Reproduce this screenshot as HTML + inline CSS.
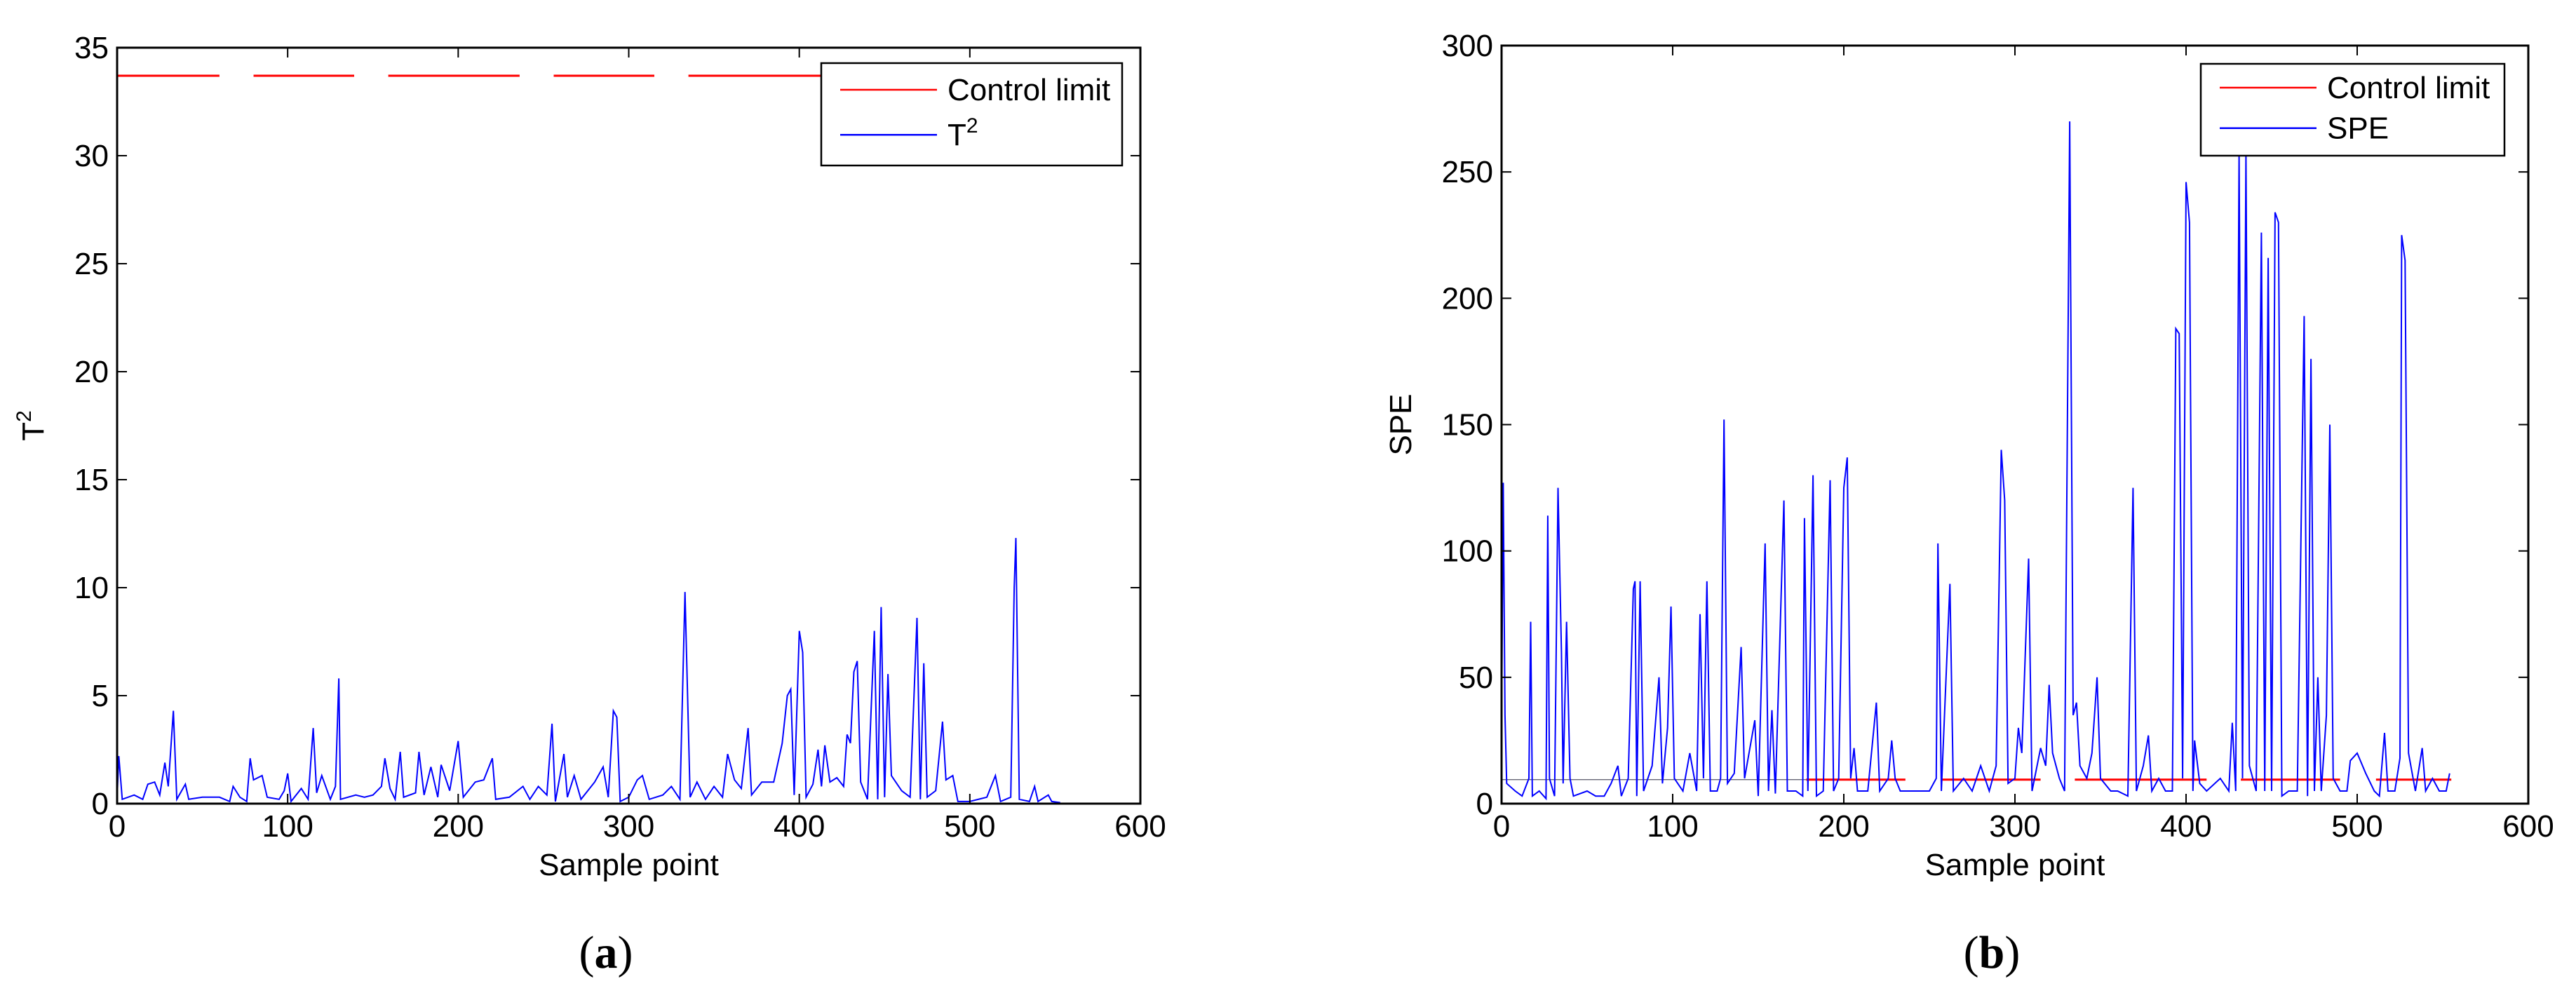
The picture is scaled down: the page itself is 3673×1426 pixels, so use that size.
<!DOCTYPE html>
<html><head><meta charset="utf-8"><style>
html,body{margin:0;padding:0;background:#fff;}
svg{display:block;font-family:"Liberation Sans",sans-serif;}
</style></head><body>
<svg id="fig" width="3673" height="1426" viewBox="0 0 3673 1426" xmlns="http://www.w3.org/2000/svg">
<rect width="3673" height="1426" fill="#fff"/>
<g id="pa"></g>
<g id="pb"></g>
<text x="864" y="1380" font-family="Liberation Serif,serif" font-size="66" text-anchor="middle">(<tspan font-weight="bold">a</tspan>)</text>
<text x="2840" y="1380" font-family="Liberation Serif,serif" font-size="66" text-anchor="middle">(<tspan font-weight="bold">b</tspan>)</text>
</svg>
<script>
const xTicks=[0,100,200,300,400,500,600];
const t2Ticks=[0,5,10,15,20,25,30,35];
const speTicks=[0,50,100,150,200,250,300];
const t2Limit=33.7;
const speLimit=9.5;
const t2LimitSegs=[[0,60],[80,139],[159,236],[256,315],[335,420]];
const speLimitSegs=[[178,236],[257,315],[335,412],[432,490],[511,555]];
const t2X=[0,1,3,10,15,18,22,25,28,30,33,35,40,42,50,60,66,68,72,76,78,80,85,88,95,98,100,102,108,112,115,117,120,125,128,130,131,140,145,150,155,157,160,163,166,168,175,177,180,184,188,190,195,200,203,210,215,220,222,230,238,242,247,252,255,257,262,264,268,272,280,285,288,291,293,295,300,305,308,312,320,325,330,333,336,340,345,350,355,358,362,366,370,372,378,385,390,393,395,397,400,402,404,408,411,413,415,418,422,426,428,430,432,434,436,440,444,446,448,450,452,454,460,465,469,471,473,475,480,484,486,490,493,500,510,515,518,524,526,527,529,535,538,540,546,548,553];
const t2V=[0.3,2.2,0.2,0.4,0.2,0.9,1.0,0.4,1.9,0.8,4.3,0.2,0.9,0.2,0.3,0.3,0.1,0.8,0.3,0.1,2.1,1.1,1.3,0.3,0.2,0.6,1.4,0.1,0.7,0.2,3.5,0.5,1.3,0.2,0.8,5.8,0.2,0.4,0.3,0.4,0.8,2.1,0.7,0.2,2.4,0.3,0.5,2.4,0.4,1.7,0.3,1.8,0.6,2.9,0.3,1.0,1.1,2.1,0.2,0.3,0.8,0.2,0.8,0.4,3.7,0.1,2.3,0.3,1.3,0.2,1.0,1.7,0.3,4.3,4.0,0.1,0.3,1.1,1.3,0.2,0.4,0.8,0.2,9.8,0.3,1.0,0.2,0.8,0.3,2.3,1.1,0.7,3.5,0.4,1.0,1.0,2.8,5.0,5.3,0.4,8.0,7.0,0.3,0.9,2.5,0.8,2.7,1.0,1.2,0.8,3.2,2.8,6.1,6.6,1.0,0.2,8.0,0.2,9.1,0.3,6.0,1.3,0.6,0.3,8.6,0.2,6.5,0.3,0.6,3.8,1.1,1.3,0.1,0.1,0.3,1.3,0.1,0.3,10.0,12.3,0.2,0.1,0.8,0.1,0.4,0.1,0.05];
const speX=[0,1,2,3,8,12,16,17,18,22,26,27,28,31,33,35,36,38,40,42,50,55,60,64,68,70,74,77,78,79,81,83,88,92,94,97,99,101,106,110,114,116,118,120,122,126,128,130,132,136,140,142,148,150,154,156,158,160,165,167,172,176,177,179,182,184,188,192,194,197,200,202,204,206,208,214,219,221,226,228,230,233,240,250,254,255,257,262,264,270,275,280,285,289,292,294,296,300,302,304,308,310,315,318,320,322,326,329,332,334,336,338,342,345,348,350,356,360,366,369,371,375,378,380,384,388,392,394,396,398,400,402,404,405,408,412,420,425,427,429,431,433,435,437,441,444,446,448,450,452,454,456,460,465,469,471,473,475,477,479,482,484,486,490,494,496,500,505,510,513,516,518,522,525,526,528,530,534,538,540,544,548,552,554];
const speV=[30,127,35,8,5,3,10,72,3,5,2,114,10,3,125,60,8,72,10,3,5,3,3,8,15,3,10,85,88,3,88,5,15,50,8,30,78,10,5,20,5,75,10,88,5,5,10,152,8,12,62,10,33,3,103,5,37,4,120,5,5,3,113,5,130,3,5,128,5,10,125,137,10,22,5,5,40,5,10,25,10,5,5,5,10,103,5,87,5,10,5,15,5,15,140,120,8,10,30,20,97,5,22,15,47,20,10,5,270,35,40,15,10,20,50,10,5,5,3,125,5,15,27,5,10,5,5,188,186,10,246,230,5,25,8,5,10,5,32,5,258,10,258,15,5,226,5,216,5,234,230,3,5,5,193,3,176,5,50,5,35,150,10,5,5,17,20,12,5,3,28,5,5,18,225,215,20,5,22,5,10,5,5,12];

const NS="http://www.w3.org/2000/svg";
function mk(parent,tag,attrs){const e=document.createElementNS(NS,tag);for(const k in attrs)e.setAttribute(k,attrs[k]);parent.appendChild(e);return e;}

function drawPanel(g,cfg){
  const L=cfg.L,R=cfg.R,T=cfg.T,B=cfg.B;
  const sx=v=>L+(v-0)/(600-0)*(R-L);
  const sy=v=>B-(v-0)/(cfg.ymax)*(B-T);
  // limit segments
  cfg.limSegs.forEach(s=>{
    const ln=mk(g,'line',{x1:sx(s[0]),x2:sx(s[1]),y1:sy(cfg.lim),y2:sy(cfg.lim),stroke:'#ff0000','stroke-width':3});
    
    
  });
  if(cfg.thinLim){
    const ln=mk(g,'line',{x1:sx(cfg.thinLim[0]),x2:sx(cfg.thinLim[1]),y1:sy(cfg.lim),y2:sy(cfg.lim),stroke:'#556','stroke-width':1.2});
    
    
  }
  // series
  let d='';
  cfg.xs.forEach((x,i)=>{d+=(i?'L':'M')+sx(x).toFixed(1)+' '+sy(Math.min(cfg.vs[i],cfg.ymax)).toFixed(1);});
  const p=mk(g,'path',{d:d,fill:'none',stroke:'#0000ff','stroke-width':2});
  
  
  // axes box
  const box=mk(g,'rect',{x:L,y:T,width:R-L,height:B-T,fill:'none',stroke:'#000','stroke-width':3});
  
  
  xTicks.forEach(t=>{
    const x=sx(t);
    mk(g,'line',{x1:x,x2:x,y1:B,y2:B-14,stroke:'#000','stroke-width':2});
    mk(g,'line',{x1:x,x2:x,y1:T,y2:T+14,stroke:'#000','stroke-width':2});
    const tx=mk(g,'text',{x:x,y:B+47,'font-size':44,'text-anchor':'middle'});
    tx.textContent=t;
    
    
  });
  cfg.yTicks.forEach(t=>{
    const y=sy(t);
    mk(g,'line',{x1:L,x2:L+14,y1:y,y2:y,stroke:'#000','stroke-width':2});
    mk(g,'line',{x1:R,x2:R-14,y1:y,y2:y,stroke:'#000','stroke-width':2});
    const tx=mk(g,'text',{x:L-12,y:y+15,'font-size':44,'text-anchor':'end'});
    tx.textContent=t;
    
    
  });
  const xl=mk(g,'text',{x:(L+R)/2,y:B+102,'font-size':44,'text-anchor':'middle'});
  xl.textContent='Sample point';
  
  
  const yl=mk(g,'text',{x:0,y:0,'font-size':44,'text-anchor':'middle',transform:'translate('+cfg.ylx+','+((T+B)/2)+') rotate(-90)'});
  yl.innerHTML=cfg.ylab;
  
  
  // legend
  const lg=mk(g,'g',{});
  
  
  const lb=cfg.leg;
  mk(lg,'rect',{x:lb[0],y:lb[1],width:lb[2]-lb[0],height:lb[3]-lb[1],fill:'#fff',stroke:'#000','stroke-width':2.5});
  const h=lb[3]-lb[1];
  const y1=lb[1]+h*0.26,y2=lb[1]+h*0.7;
  mk(lg,'line',{x1:lb[0]+27,x2:lb[0]+165,y1:y1,y2:y1,stroke:'#ff0000','stroke-width':2.5});
  mk(lg,'line',{x1:lb[0]+27,x2:lb[0]+165,y1:y2,y2:y2,stroke:'#0000ff','stroke-width':2.5});
  const e1=mk(lg,'text',{x:lb[0]+180,y:y1+15,'font-size':44});
  e1.textContent='Control limit';
  
  
  const e2=mk(lg,'text',{x:lb[0]+180,y:y2+15,'font-size':44});
  e2.innerHTML=cfg.legLab;
  
  
}
drawPanel(document.getElementById('pa'),{L:167,R:1626,T:68,B:1146,ymax:35,yTicks:t2Ticks,lim:t2Limit,limSegs:t2LimitSegs,xs:t2X,vs:t2V,seriesName:'t2-series',ylx:62,ylab:'T<tspan dy="-18" font-size="30">2</tspan>',leg:[1171,90,1600,236],legLab:'T<tspan dy="-18" font-size="30">2</tspan>'});
drawPanel(document.getElementById('pb'),{L:2141,R:3605,T:65,B:1146,ymax:300,yTicks:speTicks,lim:speLimit,limSegs:speLimitSegs,thinLim:[0,178],xs:speX,vs:speV,seriesName:'spe-series',ylx:2012,ylab:'SPE',leg:[3138,91,3571,222],legLab:'SPE'});
</script>
</body></html>
